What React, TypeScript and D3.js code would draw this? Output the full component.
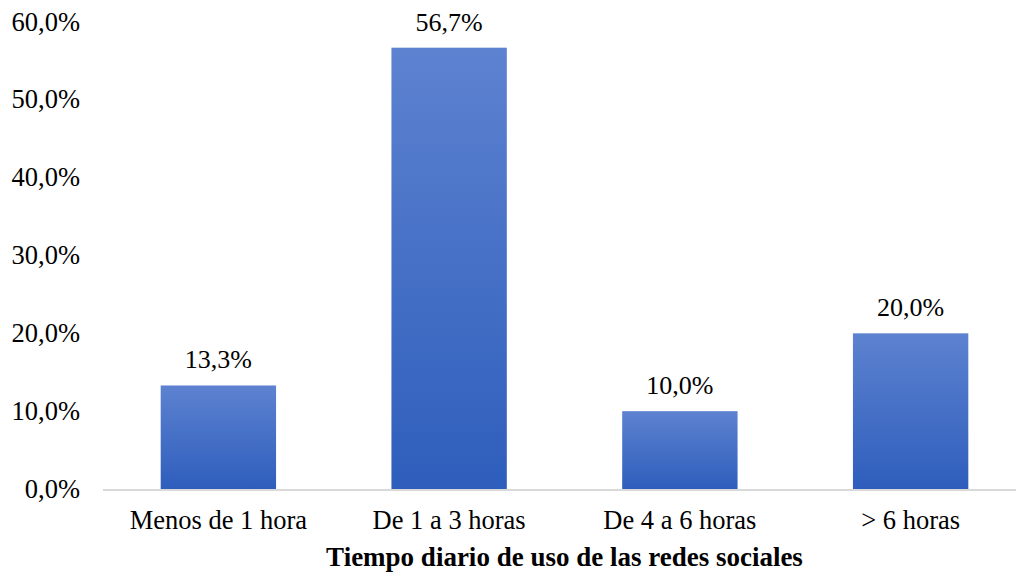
import React from "react";
import * as d3 from "d3";

const categories = ["Menos de 1 hora", "De 1 a 3 horas", "De 4 a 6 horas", "> 6 horas"];
const values = [13.3, 56.7, 10.0, 20.0];
const yTicks = [0, 10, 20, 30, 40, 50, 60];
const xTitle = "Tiempo diario de uso de las redes sociales";

const W = 1016;
const H = 573;
const margin = { left: 103, right: -10, top: 22, bottom: 84 };

const fmt = (v: number) => v.toFixed(1).replace(".", ",") + "%";
const font = "Liberation Serif, Tinos, Times New Roman, serif";

export default function App() {
  const x = d3
    .scaleBand<string>()
    .domain(categories)
    .range([margin.left, W - margin.right])
    .paddingInner(0.5)
    .paddingOuter(0.25);
  const y = d3.scaleLinear().domain([0, 60]).range([H - margin.bottom, margin.top]);

  return (
    <svg width={W} height={H} style={{ position: "absolute", left: 0, top: 0, background: "#fff" }}>
      <defs>
        <linearGradient id="barFill" x1="0" y1="0" x2="0" y2="1">
          <stop offset="0%" stopColor="#5d82d0" />
          <stop offset="100%" stopColor="#2e5ebc" />
        </linearGradient>
      </defs>
      <g fontFamily={font} fill="#000" style={{ fontFamily: font }}>
        {yTicks.map((t) => (
          <text key={t} x={80} y={y(t) + 8.5} textAnchor="end" fontSize={26.5}>
            {fmt(t)}
          </text>
        ))}
        {categories.map((c, i) => (
          <g key={c}>
            <rect
              x={x(c)}
              y={y(values[i])}
              width={x.bandwidth()}
              height={y(0) - y(values[i])}
              fill="url(#barFill)"
            />
            <text
              x={(x(c) as number) + x.bandwidth() / 2}
              y={y(values[i]) - 17}
              textAnchor="middle"
              fontSize={26}
            >
              {fmt(values[i])}
            </text>
            <text
              x={(x(c) as number) + x.bandwidth() / 2}
              y={y(0) + 40}
              textAnchor="middle"
              fontSize={26.5}
            >
              {c}
            </text>
          </g>
        ))}
        <text
          x={(margin.left + W - margin.right) / 2}
          y={H - 7}
          textAnchor="middle"
          fontSize={27}
          fontWeight="bold"
        >
          {xTitle}
        </text>
      </g>
      <line x1={margin.left} x2={W} y1={y(0) + 1} y2={y(0) + 1} stroke="#d9d9d9" strokeWidth={2} />
    </svg>
  );
}
